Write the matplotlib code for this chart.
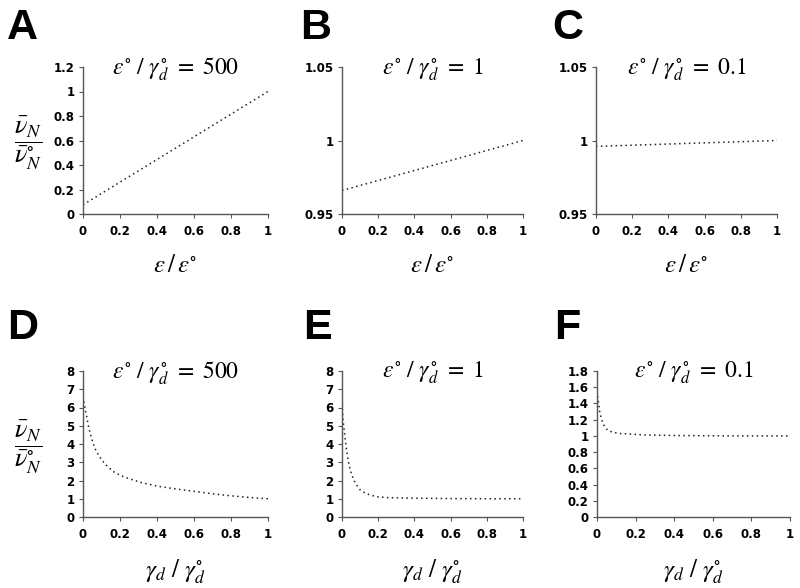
import matplotlib
matplotlib.use("Agg")
import matplotlib.pyplot as plt
from matplotlib.ticker import FixedLocator, FixedFormatter

plt.rcParams['mathtext.fontset'] = 'stix'

# ---- data ----
x_top = [0.0, 1.0]
a_vals = [0.075, 1.0]
b_vals = [0.966, 1.0]
c_vals = [0.996, 1.0]

d_x = [0.0, 0.011, 0.02, 0.028, 0.039, 0.052, 0.069, 0.089, 0.11, 0.134, 0.167,
       0.208, 0.249, 0.315, 0.397, 0.479, 0.56, 0.7, 0.8, 0.9, 1.0]
d_vals = [6.6, 5.95, 5.49, 5.04, 4.58, 4.12, 3.66, 3.3, 3.02, 2.75, 2.47,
          2.25, 2.1, 1.89, 1.70, 1.57, 1.46, 1.27, 1.16, 1.07, 1.0]

e_x = [0.0, 0.002, 0.005, 0.01, 0.016, 0.024, 0.034, 0.046, 0.062, 0.078, 0.102,
       0.127, 0.159, 0.2, 0.257, 0.338, 0.45, 0.6, 0.8, 1.0]
e_vals = [7.0, 5.95, 5.4, 4.95, 4.4, 3.75, 3.11, 2.56, 2.1, 1.78, 1.47,
          1.32, 1.19, 1.1, 1.06, 1.04, 1.025, 1.01, 1.0, 1.0]

f_x = [0.0, 0.007, 0.014, 0.024, 0.038, 0.055, 0.081, 0.116, 0.159, 0.245, 0.418,
       0.7, 1.0]
f_vals = [1.55, 1.42, 1.30, 1.20, 1.12, 1.07, 1.045, 1.03, 1.025, 1.012, 1.004,
          1.0, 1.0]

x_ticks = [0, 0.2, 0.4, 0.6, 0.8, 1.0]
x_ticklabels = ["0", "0.2", "0.4", "0.6", "0.8", "1"]

a_yticks = [0, 0.2, 0.4, 0.6, 0.8, 1.0, 1.2]
a_yticklabels = ["0", "0.2", "0.4", "0.6", "0.8", "1", "1.2"]
bc_yticks = [0.95, 1.0, 1.05]
bc_yticklabels = ["0.95", "1", "1.05"]
de_yticks = [0, 1, 2, 3, 4, 5, 6, 7, 8]
de_yticklabels = ["0", "1", "2", "3", "4", "5", "6", "7", "8"]
f_yticks = [0, 0.2, 0.4, 0.6, 0.8, 1.0, 1.2, 1.4, 1.6, 1.8]
f_yticklabels = ["0", "0.2", "0.4", "0.6", "0.8", "1", "1.2", "1.4", "1.6", "1.8"]

ratios = ["500", "1", "0.1"]
letters = ["A", "B", "C", "D", "E", "F"]

W, H = 800, 588
fig = plt.figure(figsize=(8.0, 5.88), dpi=100)

def box(l, r, t, b):
    return [l / W, 1 - b / H, (r - l) / W, (b - t) / H]

boxes = [
    box(83, 268, 67, 214), box(342, 523, 67, 214), box(596, 777, 67, 214),
    box(83, 268, 371, 517), box(342, 523, 371, 517), box(597, 790, 371, 517),
]

panels = [
    (x_top, a_vals, a_yticks, a_yticklabels),
    (x_top, b_vals, bc_yticks, bc_yticklabels),
    (x_top, c_vals, bc_yticks, bc_yticklabels),
    (d_x, d_vals, de_yticks, de_yticklabels),
    (e_x, e_vals, de_yticks, de_yticklabels),
    (f_x, f_vals, f_yticks, f_yticklabels),
]

letter_pos = [(7, 8), (300, 8), (552, 8), (7, 308), (303, 308), (554, 308)]

for i, (bx, (xs, ys, yt, ytl)) in enumerate(zip(boxes, panels)):
    ax = fig.add_axes(bx)
    ax.plot(xs, ys, color='#222222', linestyle=(0, (1, 2.2)), linewidth=1.1)
    ax.set_xlim(0, 1)
    ax.set_ylim(yt[0], yt[-1])
    ax.xaxis.set_major_locator(FixedLocator(x_ticks))
    ax.xaxis.set_major_formatter(FixedFormatter(x_ticklabels))
    ax.yaxis.set_major_locator(FixedLocator(yt))
    ax.yaxis.set_major_formatter(FixedFormatter(ytl))
    for s in ['top', 'right']:
        ax.spines[s].set_visible(False)
    for s in ['left', 'bottom']:
        ax.spines[s].set_color('#555555')
        ax.spines[s].set_linewidth(1.0)
    ax.tick_params(axis='x', direction='out', length=3, width=0.8, color='#555555',
                   pad=5, labelsize=8.5)
    ax.tick_params(axis='y', direction='out', length=3, width=0.8, color='#555555',
                   pad=3, labelsize=8.5)
    for lab in ax.get_xticklabels() + ax.get_yticklabels():
        lab.set_fontweight('bold')
        lab.set_fontfamily('DejaVu Sans')
    ax.text(0.5, 0.985,
            r'$\varepsilon^{\circ}\ /\ \gamma_d^{\circ}\ =\ \mathrm{%s}$' % ratios[i % 3],
            transform=ax.transAxes, ha='center', va='center', fontsize=17)
    # x label
    if i < 3:
        xl = r'$\varepsilon\,/\,\varepsilon^{\circ}$'
        ycen = 265
    else:
        xl = r'$\gamma_d\ /\ \gamma_d^{\circ}$'
        ycen = 572
    cx = (bx[0] + bx[2] / 2)
    fig.text(cx, 1 - ycen / H, xl, ha='center', va='center', fontsize=18)
    lx, ly = letter_pos[i]
    fig.text(lx / W, 1 - ly / H, letters[i], ha='left', va='top', fontsize=31,
             fontweight='bold', family='Liberation Sans')

ylab = r'$\dfrac{\bar{\nu}_N}{\bar{\nu}_N^{\circ}}$'
fig.text(28 / W, 1 - 143 / H, ylab, ha='center', va='center', fontsize=19)
fig.text(28 / W, 1 - 447 / H, ylab, ha='center', va='center', fontsize=19)

fig.savefig("out.png", dpi=100)
